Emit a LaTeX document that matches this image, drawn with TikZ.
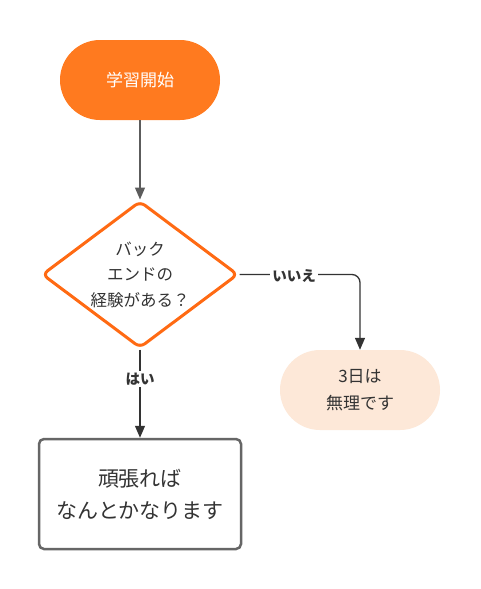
\documentclass[tikz,border=0pt]{standalone}
\usepackage{fontspec}
\setmainfont{Noto Sans CJK JP}
\usetikzlibrary{shapes.geometric,arrows.meta}
\definecolor{startor}{HTML}{FF7A1F}
\definecolor{diaor}{HTML}{FF6A13}
\definecolor{peach}{HTML}{FDE8D8}
\definecolor{txt}{HTML}{333333}
\definecolor{edgec}{HTML}{333333}
\definecolor{boxgray}{HTML}{666666}
\begin{document}
\begin{tikzpicture}[x=1pt,y=-1pt,
  pill/.style={rounded corners=40pt, minimum width=160pt, minimum height=80pt, inner sep=0pt, align=center, font=\fontsize{17}{27}\selectfont},
  decision/.style={diamond, draw=diaor, line width=3pt, rounded corners=6pt, minimum width=196pt, minimum height=147pt, aspect=1.34, inner sep=0pt, align=center, text=txt, font=\fontsize{16.5}{25.5}\selectfont},
  procbox/.style={draw=boxgray, line width=2.5pt, rounded corners=5pt, minimum width=202pt, minimum height=110pt, align=center, text=txt, font=\fontsize{21}{32}\selectfont},
  conn/.style={draw=edgec, line width=1.3pt, -{Triangle[length=12pt,width=10pt]}},
  lbl/.style={fill=white, inner sep=2pt, text=txt, font=\fontsize{14.5}{16}\selectfont\bfseries}
]
\useasboundingbox (0,0) rectangle (480,589);
\fill[white] (0,0) rectangle (480,589);
\node[pill, fill=startor, text=white] (start) at (140,80) {学習開始};
\node[decision] (dec) at (140,274.5) {バック\\エンドの\\経験がある？};
\node[pill, fill=peach, text=txt] (no) at (360,390) {3日は\\無理です};
\node[procbox] (yes) at (140,494) {頑張れば\\なんとかなります};
\coordinate (corner) at (360,274.5);
\draw[conn, draw=boxgray!90!black] (start) -- (dec.north);
\draw[conn, rounded corners=8pt] (dec.east) -- (corner) -- (no.north);
\draw[conn] (dec.south) -- (yes.north);
\node[lbl] (lno) at (294,276) {いいえ};
\node[lbl] (lyes) at (140,379) {はい};
\end{tikzpicture}
\end{document}
